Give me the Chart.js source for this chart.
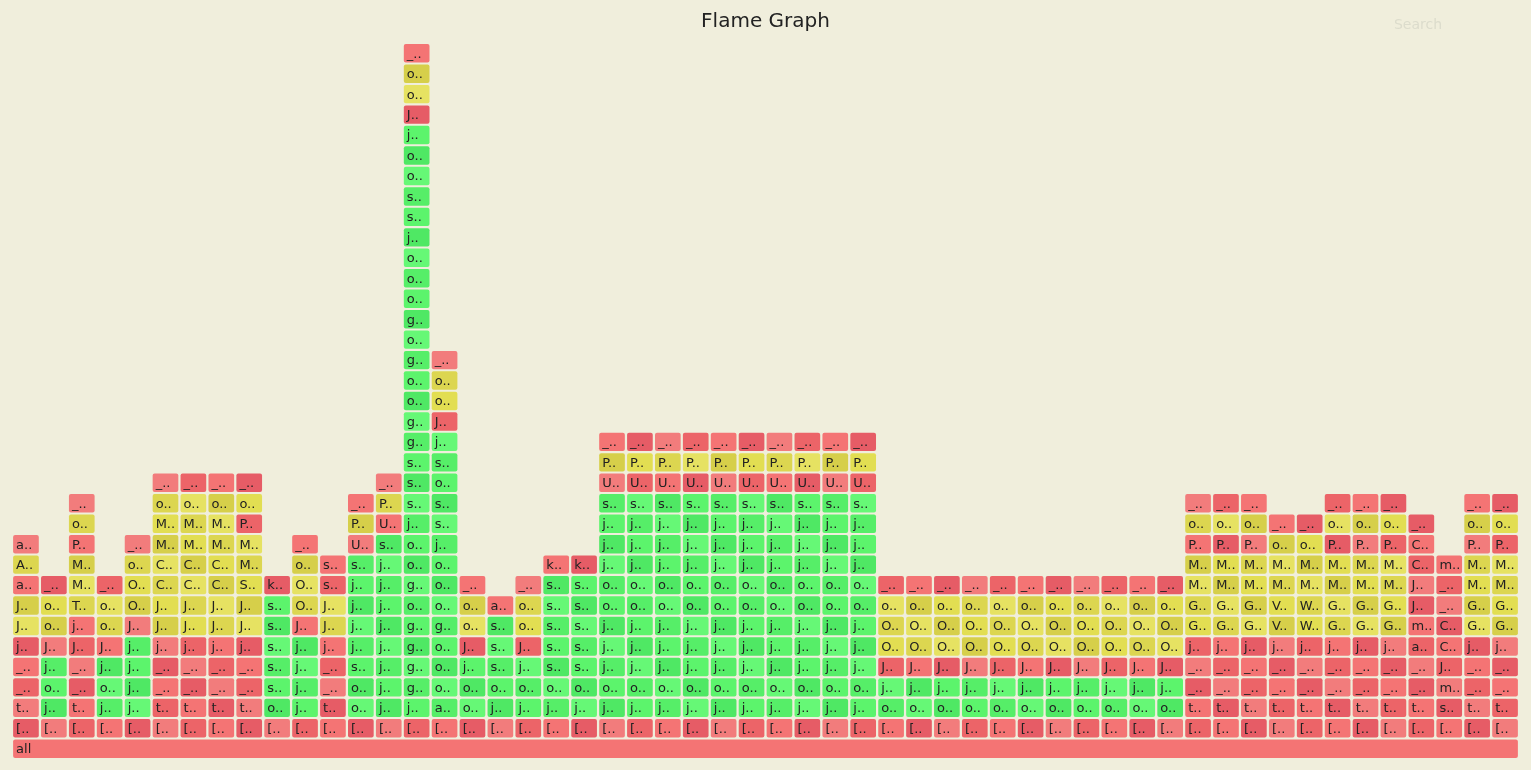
<!DOCTYPE html>
<html>
<head>
  <title>Flame Graph</title>
  <script src="https://cdn.jsdelivr.net/npm/chart.js"></script>
  <style>
    body { margin: 0; background: #f0eedc; }
    #wrap { width: 1531px; height: 770px; }
  </style>
</head>
<body>
  <div id="wrap"><canvas id="flame"></canvas></div>
  <script>
    // one string per column, bottom frame first; first letter of each frame name
    const frameCols = [
      "[t__jJJaAa", "[jojJoo_", "[t__JjTMMPo_", "[jojJoo_", "[jjjjJOOo_",
      "[t__jJJCCMMo_", "[t__jJJCCMMo_", "[t__jJJCCMMo_", "[t__jJJSMMPo_",
      "[osssssk", "[jjjjJOOo_", "[t__jJJss", "[oosjjjjsUP_", "[jjjjjjjjsUP_",
      "[jggggogoojsssggoogogooojssoojJoo_", "[aooogooojssosjJoo_",
      "[oojJoo_", "[josssa", "[jojJoo_", "[josssssk", "[josssssk",
      "[jojjjoojjjsUP_", "[jojjjoojjjsUP_", "[jojjjoojjjsUP_", "[jojjjoojjjsUP_", "[jojjjoojjjsUP_",
      "[jojjjoojjjsUP_", "[jojjjoojjjsUP_", "[jojjjoojjjsUP_", "[jojjjoojjjsUP_", "[jojjjoojjjsUP_",
      "[ojJOOo_", "[ojJOOo_", "[ojJOOo_", "[ojJOOo_", "[ojJOOo_", "[ojJOOo_",
      "[ojJOOo_", "[ojJOOo_", "[ojJOOo_", "[ojJOOo_", "[ojJOOo_",
      "[t__jGGMMPo_", "[t__jGGMMPo_", "[t__jGGMMPo_", "[t__jVVMMo_", "[t__jWWMMo_",
      "[t__jGGMMPo_", "[t__jGGMMPo_", "[t__jGGMMPo_", "[t__amJJCC_", "[smJCC__m",
      "[t__jGGMMPo_", "[t__jGGMMPo_"
    ];
    // r = red, y = yellow, g = green per frame
    const hueCols = [
      "rrrrryyryr", "rgggryyr", "rrrrrryyyryr", "rgggryyr", "rggggryyyr",
      "rrrrryyyyyyyr", "rrrrryyyyyyyr", "rrrrryyyyyyyr", "rrrrryyyyyryr",
      "rggggggr", "rggggryyyr", "rrrrryyrr", "rggggggggryr", "rgggggggggryr",
      "rgggggggggggggggggggggggggggggryyr", "rggggggggggggggryyr",
      "rgggryyr", "rgggggr", "rgggryyr", "rgggggggr", "rgggggggr",
      "rgggggggggggryr", "rgggggggggggryr", "rgggggggggggryr", "rgggggggggggryr", "rgggggggggggryr",
      "rgggggggggggryr", "rgggggggggggryr", "rgggggggggggryr", "rgggggggggggryr", "rgggggggggggryr",
      "rggryyyr", "rggryyyr", "rggryyyr", "rggryyyr", "rggryyyr", "rggryyyr",
      "rggryyyr", "rggryyyr", "rggryyyr", "rggryyyr", "rggryyyr",
      "rrrrryyyyryr", "rrrrryyyyryr", "rrrrryyyyryr", "rrrrryyyyyr", "rrrrryyyyyr",
      "rrrrryyyyryr", "rrrrryyyyryr", "rrrrryyyyryr", "rrrrrrrrrrr", "rrrrrrrrr",
      "rrrrryyyyryr", "rrrrryyyyryr"
    ];
    const rootLabel = "all";
    const depth = 35;

    const shades = {
      r: ['#f47474', '#ec6468', '#f27c7c', '#e65c66'],
      y: ['#e2de52', '#d6cf4a', '#e6e262', '#dcd650'],
      g: ['#5cf46c', '#4fe864', '#66f876', '#56ee68']
    };

    const rows = Array.from({ length: depth }, (_, i) => i);
    const nCols = frameCols.length;

    const datasets = [{
      label: rootLabel,
      data: rows.map(r => r === 0 ? [0.04, nCols - 0.04] : null),
      names: rows.map(r => r === 0 ? rootLabel : null),
      backgroundColor: '#f47474'
    }];
    frameCols.forEach((col, c) => {
      datasets.push({
        label: 'col' + c,
        data: rows.map(r => (r >= 1 && r <= col.length) ? [c + 0.04, c + 0.96] : null),
        names: rows.map(r => (r >= 1 && r <= col.length) ? col[r - 1] + '..' : null),
        backgroundColor: rows.map(r => {
          const h = hueCols[c][r - 1] || 'r';
          return shades[h][(c * 7 + r * 3) % 4];
        })
      });
    });

    const textPlugin = {
      id: 'frameText',
      afterDatasetsDraw(chart) {
        const ctx = chart.ctx;
        ctx.save();
        ctx.font = '13px "DejaVu Sans"';
        ctx.fillStyle = '#222';
        ctx.textBaseline = 'middle';
        chart.data.datasets.forEach((ds, i) => {
          chart.getDatasetMeta(i).data.forEach((bar, j) => {
            if (!ds.names[j]) return;
            const p = bar.getProps(['base', 'y'], true);
            ctx.fillText(ds.names[j], Math.min(p.base, bar.x) + 3, p.y + 1);
          });
        });
        ctx.font = '14px "DejaVu Sans"';
        ctx.fillStyle = '#dcdccc';
        ctx.textAlign = 'center';
        ctx.fillText('Search', 1418, 25);
        ctx.restore();
      }
    };

    new Chart(document.getElementById('flame'), {
      type: 'bar',
      data: { labels: rows, datasets: datasets },
      options: {
        indexAxis: 'y',
        responsive: true,
        maintainAspectRatio: false,
        animation: false,
        layout: { padding: { left: 12, right: 12, bottom: 11 } },
        datasets: { bar: { grouped: false, categoryPercentage: 1, barPercentage: 0.9, borderRadius: 2, borderSkipped: false } },
        scales: {
          x: { type: 'linear', min: 0, max: nCols, display: false },
          y: { reverse: true, display: false }
        },
        plugins: {
          legend: { display: false },
          tooltip: { enabled: false },
          title: {
            display: true, text: 'Flame Graph', color: '#222',
            font: { size: 20, family: 'DejaVu Sans', weight: 'normal' },
            padding: { top: 10, bottom: 9 }
          }
        }
      },
      plugins: [textPlugin]
    });
  </script>
</body>
</html>
